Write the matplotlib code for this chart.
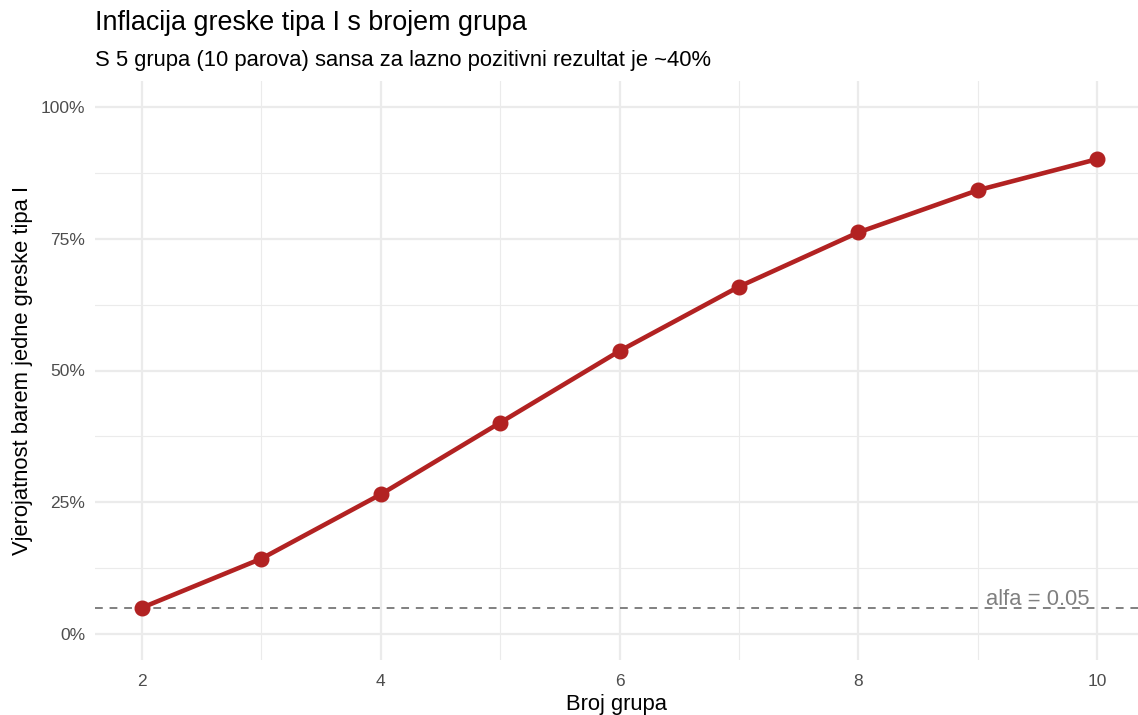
import matplotlib
matplotlib.use("Agg")
import matplotlib.pyplot as plt
from matplotlib.ticker import FuncFormatter, MultipleLocator

groups = [2, 3, 4, 5, 6, 7, 8, 9, 10]
prob = [0.050, 0.143, 0.265, 0.401, 0.537, 0.659, 0.762, 0.842, 0.901]
alpha = 0.05
x_ticks = [2, 4, 6, 8, 10]
y_ticks = [0, 0.25, 0.5, 0.75, 1.0]

title = "Inflacija greske tipa I s brojem grupa"
subtitle = "S 5 grupa (10 parova) sansa za lazno pozitivni rezultat je ~40%"
xlabel = "Broj grupa"
ylabel = "Vjerojatnost barem jedne greske tipa I"
annot = "alfa = 0.05"

plt.rcParams['font.family'] = ['Liberation Sans', 'DejaVu Sans']

W, H = 1138, 715
fig = plt.figure(figsize=(W / 100, H / 100), dpi=100)
left, right, top, bottom = 95, 1138, 81, 660
ax = fig.add_axes([left / W, 1 - bottom / H, (right - left) / W, (bottom - top) / H])

ax.set_xlim(1.606, 10.343)
ax.set_ylim(-0.0493, 1.0493)

for s in ax.spines.values():
    s.set_visible(False)

ax.set_xticks(x_ticks)
ax.set_yticks(y_ticks)
ax.xaxis.set_minor_locator(MultipleLocator(1))
ax.yaxis.set_minor_locator(MultipleLocator(0.125))
ax.yaxis.set_major_formatter(FuncFormatter(lambda v, p: f"{v*100:.0f}%"))
ax.grid(which='major', color='#EBEBEB', linewidth=1.6)
ax.grid(which='minor', color='#EBEBEB', linewidth=0.8)
ax.set_axisbelow(True)
ax.tick_params(which='both', length=0)
ax.tick_params(axis='x', labelsize=12.5, colors='#4D4D4D', pad=10)
ax.tick_params(axis='y', labelsize=12.5, colors='#4D4D4D', pad=7)

ax.axhline(alpha, color='#808080', linewidth=1.4, dashes=(4, 3.5), zorder=2)
ax.plot(groups, prob, color='#B22222', linewidth=3.3, zorder=3, solid_capstyle='butt')
ax.plot(groups, prob, 'o', color='#B22222', markersize=10.5, zorder=4)

ax.text(9.5, 0.055, annot, color='#808080', fontsize=15.8, ha='center', va='baseline')

ax.set_xlabel(xlabel, fontsize=15.8, color='black', labelpad=4)
ax.set_ylabel(ylabel, fontsize=15.8, color='black', labelpad=5.5)

fig.text(95 / W, 1 - 30 / H, title, fontsize=19.4, ha='left', va='baseline')
fig.text(95 / W, 1 - 66 / H, subtitle, fontsize=15.8, ha='left', va='baseline')

fig.savefig("out.png", dpi=100, facecolor='white')
